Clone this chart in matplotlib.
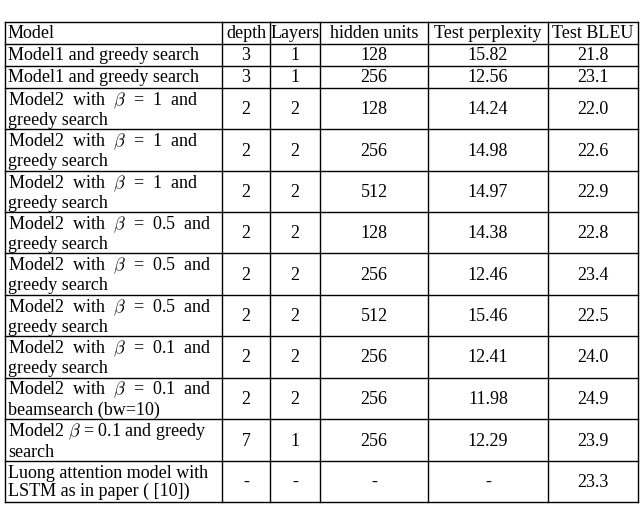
import matplotlib
matplotlib.use("Agg")
import matplotlib.pyplot as plt

plt.rcParams['font.family'] = ['Liberation Serif', 'DejaVu Serif']
plt.rcParams['mathtext.fontset'] = 'cm'

headers = ["Model", "depth", "Layers", "hidden units", "Test perplexity", "Test BLEU"]
models = [
    "Model1 and greedy search",
    "Model1 and greedy search",
    "Model2  with  $\\beta$  =  1  and\ngreedy search",
    "Model2  with  $\\beta$  =  1  and\ngreedy search",
    "Model2  with  $\\beta$  =  1  and\ngreedy search",
    "Model2  with  $\\beta$  =  0.5  and\ngreedy search",
    "Model2  with  $\\beta$  =  0.5  and\ngreedy search",
    "Model2  with  $\\beta$  =  0.5  and\ngreedy search",
    "Model2  with  $\\beta$  =  0.1  and\ngreedy search",
    "Model2  with  $\\beta$  =  0.1  and\nbeamsearch (bw=10)",
    "Model2 $\\beta$ = 0.1 and greedy\nsearch",
    "Luong attention model with\nLSTM as in paper ( [10])",
]
depth = ["3", "3", "2", "2", "2", "2", "2", "2", "2", "2", "7", "-"]
layers = ["1", "1", "2", "2", "2", "2", "2", "2", "2", "2", "1", "-"]
hidden = ["128", "256", "128", "256", "512", "128", "256", "512", "256", "256", "256", "-"]
perplexity = ["15.82", "12.56", "14.24", "14.98", "14.97", "14.38", "12.46", "15.46", "12.41", "11.98", "12.29", "-"]
bleu = ["21.8", "23.1", "22.0", "22.6", "22.9", "22.8", "23.4", "22.5", "24.0", "24.9", "23.9", "23.3"]

col_x = [5, 222, 270, 320, 428, 548, 638]
row_y = [22, 44, 66, 88, 129, 171, 212, 253, 295, 336, 378, 419, 461, 502]

fig = plt.figure(figsize=(6.4, 5.27), dpi=100)
ax = fig.add_axes([0, 0, 1, 1])
ax.set_xlim(0, 640)
ax.set_ylim(527, 0)
ax.axis('off')

for x in col_x:
    ax.plot([x, x], [row_y[0], row_y[-1]], color='black', lw=1.0)
for y in row_y:
    ax.plot([col_x[0], col_x[-1]], [y, y], color='black', lw=1.0)

fs = 13
rows = [headers] + [[m, d, l, h, p, b] for m, d, l, h, p, b in
                    zip(models, depth, layers, hidden, perplexity, bleu)]
for i, row in enumerate(rows):
    y0, y1 = row_y[i], row_y[i + 1]
    ym = (y0 + y1) / 2 + 1
    for j, txt in enumerate(row):
        if j == 0 or (i == 0 and j == 0):
            ax.text(col_x[j] + 3, ym, txt, ha='left', va='center', fontsize=fs,
                    linespacing=1.1)
        else:
            ax.text((col_x[j] + col_x[j + 1]) / 2, ym, txt, ha='center',
                    va='center', fontsize=fs)

fig.savefig("out.png", dpi=100)
